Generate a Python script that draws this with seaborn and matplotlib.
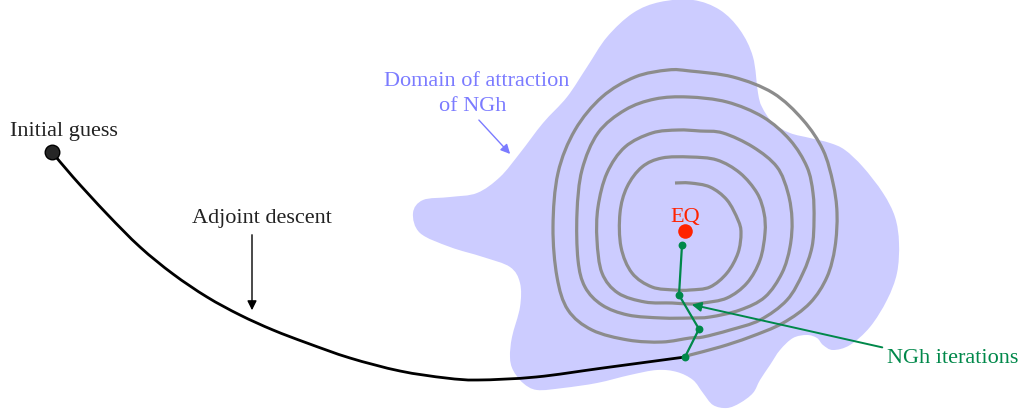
import numpy as np
import pandas as pd
import matplotlib.pyplot as plt
import seaborn as sns
from matplotlib.path import Path
from matplotlib.patches import PathPatch

# schematic in pixel coordinates (x right, y down)
blob_x = [633, 660, 693, 720, 740, 753, 758, 762, 773, 790, 810, 830, 845, 863, 883, 895, 899, 897,
          887, 870, 850, 833, 823, 817, 807, 793, 780, 770, 760, 753, 740, 727, 713, 703, 693, 677,
          657, 630, 597, 563, 537, 523, 513, 510, 512, 520, 520, 510, 483, 450, 420, 413, 423, 450,
          477, 500, 520, 543, 567, 587, 607]
blob_y = [13, 2, 0, 10, 30, 57, 93, 107, 123, 133, 138, 143, 150, 167, 193, 217, 243, 273,
          300, 327, 345, 350, 345, 338, 335, 338, 350, 365, 380, 393, 403, 408, 405, 393, 380, 372,
          370, 375, 383, 388, 390, 383, 370, 357, 337, 307, 283, 267, 257, 247, 233, 213, 200, 197,
          193, 177, 153, 123, 97, 67, 37]

spiral_x = [675, 690, 710, 727, 738, 741, 738, 727, 710, 690, 675, 652, 632, 621, 620, 627, 642, 662,
            690, 717, 740, 757, 764, 765, 760, 747, 727, 703, 690, 672, 645, 618, 602, 597, 598, 607,
            625, 652, 678, 700, 723, 753, 777, 788, 792, 790, 782, 765, 740, 710, 690, 662, 628, 602,
            585, 578, 577, 582, 598, 625, 655, 688, 727, 763, 790, 807, 813, 814, 812, 803, 787,
            760, 730, 703, 690, 662, 628, 592, 568, 557, 553, 558, 575, 602, 635, 668, 690, 733, 773,
            803, 823, 833, 837, 835, 827, 810, 783, 750, 720, 690, 685]
spiral_y = [183, 183, 187, 200, 220, 233, 253, 273, 287, 290, 290, 287, 273, 247, 213, 187, 167, 158,
            157, 160, 173, 193, 213, 233, 260, 283, 298, 303, 304, 303, 302, 293, 273, 240, 207, 173,
            147, 133, 130, 131, 133, 147, 167, 193, 220, 247, 273, 297, 310, 317, 318, 318, 315, 305,
            287, 260, 213, 170, 133, 110, 99, 97, 102, 117, 140, 167, 193, 220, 247, 273, 300,
            320, 330, 337, 338, 342, 340, 330, 310, 277, 227, 173, 130, 97, 77, 70, 71, 77, 93,
            120, 150, 183, 213, 247, 277, 303, 323, 337, 347, 355, 357]

descent_x = [52, 73, 107, 140, 173, 207, 240, 273, 307, 350, 400, 446, 478, 536, 603, 685]
descent_y = [152, 177, 214, 247, 274, 297, 315, 330, 343, 358, 371, 378, 380, 377, 368, 357]

ngh_x = [685, 699, 679, 682]
ngh_y = [357, 329, 295, 245]

eq_x, eq_y = 685, 231


def smooth_path(xs, ys, closed=False):
    # bezier path through the read points (catmull-rom handles)
    p = np.column_stack([xs, ys]).astype(float)
    n = len(p)
    verts = [p[0]]
    codes = [Path.MOVETO]
    last = n if closed else n - 1
    for i in range(last):
        p0 = p[(i - 1) % n] if (closed or i > 0) else p[i]
        p1 = p[i]
        p2 = p[(i + 1) % n]
        p3 = p[(i + 2) % n] if (closed or i + 2 < n) else p2
        verts += [p1 + (p2 - p0) / 6, p2 - (p3 - p1) / 6, p2]
        codes += [Path.CURVE4] * 3
    if closed:
        verts.append(p[0])
        codes.append(Path.CLOSEPOLY)
    return Path(verts, codes)


sns.set_theme(style='white')
plt.rcParams['font.family'] = ['Liberation Serif', 'DejaVu Serif']

fig = plt.figure(figsize=(10.21, 4.13), dpi=100)
ax = fig.add_axes([0, 0, 1, 1])

ax.add_patch(PathPatch(smooth_path(blob_x, blob_y, closed=True), facecolor='#ccccff',
                       lw=0, zorder=1))
ax.add_patch(PathPatch(smooth_path(spiral_x, spiral_y), facecolor='none', edgecolor='#8c8c8c',
                       lw=2.3, capstyle='butt', zorder=2))
ax.add_patch(PathPatch(smooth_path(descent_x, descent_y), facecolor='none', edgecolor='black',
                       lw=2, zorder=3))

ngh = pd.DataFrame({'x': ngh_x, 'y': ngh_y})
sns.lineplot(data=ngh, x='x', y='y', sort=False, estimator=None, color='#00884a',
             lw=1.6, ax=ax, zorder=4)
sns.scatterplot(data=ngh, x='x', y='y', color='#00884a', s=32, linewidth=0, ax=ax, zorder=5)

ax.scatter([descent_x[0]], [descent_y[0]], s=110, color='#262626', edgecolor='black',
           linewidth=1, zorder=6)
ax.scatter([eq_x], [eq_y], s=110, color='#ff2200', linewidth=0, zorder=6)

fs = 16
ax.text(10, 136, 'Initial guess', fontsize=fs, color='#222222', va='baseline')
ax.text(262, 223, 'Adjoint descent', fontsize=fs, color='#222222', ha='center', va='baseline')
ax.text(477, 86, 'Domain of attraction', fontsize=fs, color='#7b7bff', ha='center', va='baseline')
ax.text(473, 111, 'of NGh', fontsize=fs, color='#7b7bff', ha='center', va='baseline')
ax.text(685, 222, 'EQ', fontsize=fs, color='#ff2200', ha='center', va='baseline')
ax.text(887, 363, 'NGh iterations', fontsize=fs, color='#00884a', va='baseline')

ax.annotate('', xy=(252, 313), xytext=(252, 232),
            arrowprops=dict(arrowstyle='-|>', color='black', lw=1, mutation_scale=14))
ax.annotate('', xy=(512, 156), xytext=(477, 118),
            arrowprops=dict(arrowstyle='-|>', color='#7b7bff', lw=1, mutation_scale=14))
ax.annotate('', xy=(689, 304), xytext=(885, 348),
            arrowprops=dict(arrowstyle='-|>', color='#00884a', lw=1.4, mutation_scale=14))

ax.set_xlim(0, 1021)
ax.set_ylim(413, 0)
ax.axis('off')

fig.savefig('out.png', dpi=100)
